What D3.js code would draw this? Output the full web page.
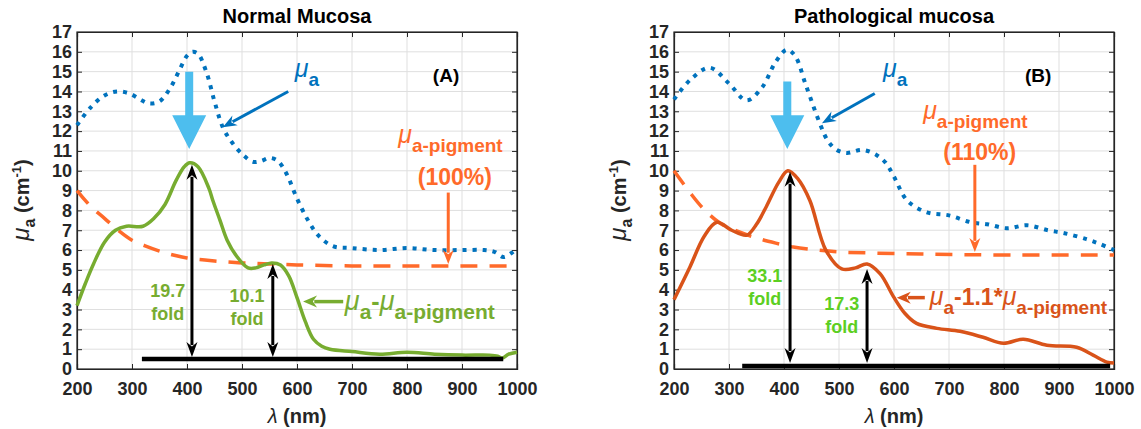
<!DOCTYPE html>
<html>
<head>
<meta charset="utf-8">
<style>
body { margin: 0; background: #fff; }
text { font-family: "Liberation Sans", Arial, sans-serif; font-weight: bold; }
.tick text { fill: #262626; font-size: 18px; font-family: "Liberation Sans", Arial, sans-serif; font-weight: bold; }
</style>
<script src="https://cdn.jsdelivr.net/npm/d3@7"></script>
</head>
<body>
<svg width="1141" height="429"></svg>
<script>

// ---- data ----
var xTicks = [200, 300, 400, 500, 600, 700, 800, 900, 1000];
var yTicks = d3.range(0, 18);

// panel A, normal mucosa
var wlMuaA = [200,225,250,273,295,315,330,350,370,385,400,410,420,435,450,465,480,500,520,535,550,565,580,600,620,640,665,700,750,800,850,900,940,960,975,990,1000];
var muaA   = [12.3,13.2,13.8,14.0,13.9,13.6,13.4,13.5,14.2,15.0,15.8,16.0,15.9,15.0,13.5,12.2,11.5,10.85,10.45,10.5,10.65,10.5,9.9,8.6,7.5,6.7,6.2,6.1,6.0,6.1,6.0,6.0,6.0,5.9,5.65,5.85,6.1];
var wlDiffA = [200,215,230,250,270,290,320,340,360,380,395,405,420,440,447,460,473,490,511,525,540,554,570,585,600,615,630,645,660,700,750,800,850,900,950,965,973,985,1000];
var diffA   = [3.2,4.3,5.3,6.4,7.0,7.2,7.2,7.6,8.3,9.5,10.2,10.4,10.2,9.1,8.5,7.5,6.5,5.7,5.1,5.1,5.25,5.35,5.25,4.7,3.6,2.4,1.5,1.15,1.0,0.88,0.75,0.85,0.75,0.7,0.7,0.65,0.55,0.75,0.85];
var wlPigA = [200,225,250,275,300,325,350,375,400,450,500,550,600,700,800,900,1000];
var pigA   = [9.0,8.2,7.6,7.0,6.5,6.2,5.95,5.75,5.6,5.45,5.35,5.3,5.25,5.2,5.2,5.2,5.2];

// panel B, pathological mucosa
var wlMuaB = [200,230,265,300,332,360,385,405,420,440,465,480,496,514,543,568,585,600,624,660,700,740,770,805,842,880,910,950,975,1000];
var muaB   = [13.6,14.6,15.2,14.4,13.55,14.2,15.5,16.1,15.8,14.3,12.4,11.5,11.05,10.9,11.05,10.8,10.4,9.7,8.5,7.9,7.75,7.4,7.3,7.1,7.25,7.0,6.85,6.55,6.3,6.0];
var wlDiffB = [200,229,255,278,305,332,350,368,390,407,425,447,476,505,530,551,575,599,620,641,678,720,762,799,835,878,932,962,987,1000];
var diffB   = [3.5,5.15,6.7,7.4,7.0,6.75,7.3,8.2,9.4,10.0,9.6,8.5,6.0,5.05,5.1,5.3,4.8,3.65,2.8,2.3,2.05,1.9,1.6,1.3,1.5,1.2,1.1,0.7,0.35,0.3];
var wlPigB = [200,229,253,284,320,351,385,417,460,502,562,650,800,1000];
var pigB   = [10.0,8.9,8.1,7.35,6.9,6.6,6.35,6.15,6.0,5.9,5.85,5.8,5.75,5.75];

// fold arrows: [wavelength, top, bottom]
var foldsA = [[409, 10.3, 0.6], [556, 5.3, 0.6]];
var foldsB = [[411, 9.95, 0.3], [551, 5.05, 0.3]];
// fold labels: [text, wavelength, baseline of number, baseline of "fold"]
var foldTextA = [["19.7", 365, 3.63, 2.47], ["10.1", 509, 3.38, 2.22]];
var foldTextB = [["33.1", 365, 4.4, 3.24], ["17.3", 505, 2.98, 1.82]];

var blue = "#0072bd", lightBlue = "#4dbeee", green = "#77ac30",
    pigOrange = "#ff6a2a", red = "#d95319", foldGreenB = "#5ccf22", axisCol = "#262626";

var svg = d3.select("svg");

var panels = [
  { x0: 77, title: "Normal Mucosa", tag: "(A)", wlMua: wlMuaA, mua: muaA, wlDiff: wlDiffA, diff: diffA,
    wlPig: wlPigA, pig: pigA, diffCol: green, folds: foldsA, foldText: foldTextA, foldCol: green,
    base: [318, 975, 0.5], pct: "(100%)" },
  { x0: 674, title: "Pathological mucosa", tag: "(B)", wlMua: wlMuaB, mua: muaB, wlDiff: wlDiffB, diff: diffB,
    wlPig: wlPigB, pig: pigB, diffCol: red, folds: foldsB, foldText: foldTextB, foldCol: foldGreenB,
    base: [324, 993, 0.15], pct: "(110%)" }
];

function arrow(g, x1, y1, x2, y2, col, w, hl, hw, both) {
  var dx = x2 - x1, dy = y2 - y1, L = Math.sqrt(dx*dx + dy*dy), ux = dx / L, uy = dy / L;
  var sx = both ? x1 + ux*hl*0.8 : x1, sy = both ? y1 + uy*hl*0.8 : y1;
  g.append("line").attr("x1", sx).attr("y1", sy).attr("x2", x2 - ux*hl*0.8).attr("y2", y2 - uy*hl*0.8)
    .attr("stroke", col).attr("stroke-width", w);
  function head(px, py, vx, vy) {
    var bx = px - vx*hl, by = py - vy*hl;
    g.append("path").attr("fill", col)
      .attr("d", "M" + px + "," + py + "L" + (bx - vy*hw/2) + "," + (by + vx*hw/2) +
                 "L" + (px - vx*hl*0.7) + "," + (py - vy*hl*0.7) +
                 "L" + (bx + vy*hw/2) + "," + (by - vx*hw/2) + "Z");
  }
  head(x2, y2, ux, uy);
  if (both) head(x1, y1, -ux, -uy);
}

function label(g, x, y, parts, col, size, anchor) {
  var t = g.append("text").attr("x", x).attr("y", y).attr("fill", col)
    .attr("text-anchor", anchor || "start");
  var level = 0;
  parts.forEach(function(p) {
    var s = t.append("tspan").text(p[0]);
    var want = p[1] === "sub" ? 9 : 0;
    if (want !== level) { s.attr("dy", want - level); level = want; }
    if (p[1] === "mu") s.style("font-style", "italic").style("font-weight", "normal").attr("font-size", size + 6);
    else if (p[1] === "sub") s.attr("font-size", size);
    else s.attr("font-size", size + 4);
  });
  return t;
}

panels.forEach(function(P, pi) {
  var x = d3.scaleLinear().domain([200, 1000]).range([P.x0, P.x0 + 440]);
  var y = d3.scaleLinear().domain([0, 17]).range([369, 32]);
  var g = svg.append("g");

  // grid
  g.append("g").selectAll("line").data(xTicks.slice(1, -1)).enter().append("line")
    .attr("x1", d => x(d)).attr("x2", d => x(d)).attr("y1", 32).attr("y2", 369)
    .attr("stroke", "#dfdfdf").attr("stroke-width", 1);
  g.append("g").selectAll("line").data(yTicks.slice(1, -1)).enter().append("line")
    .attr("y1", d => y(d)).attr("y2", d => y(d)).attr("x1", x(200)).attr("x2", x(1000))
    .attr("stroke", "#dfdfdf").attr("stroke-width", 1);

  // axes
  var ax = g.append("g").attr("transform", "translate(0,369)")
    .call(d3.axisBottom(x).tickValues(xTicks).tickSize(-5).tickPadding(10).tickFormat(d3.format("d")));
  var ay = g.append("g").attr("transform", "translate(" + x(200) + ",0)")
    .call(d3.axisLeft(y).tickValues(yTicks).tickSize(-5).tickPadding(5));
  g.append("g").attr("transform", "translate(0,32)")
    .call(d3.axisTop(x).tickValues(xTicks).tickSize(-5).tickFormat(""));
  g.append("g").attr("transform", "translate(" + x(1000) + ",0)")
    .call(d3.axisRight(y).tickValues(yTicks).tickSize(-5).tickFormat(""));
  g.selectAll(".domain").attr("stroke", axisCol).attr("stroke-width", 1.2);
  g.selectAll(".tick line").attr("stroke", axisCol);
  ax.selectAll("text").attr("dy", "0.9em");
  g.append("rect").attr("x", x(200)).attr("y", 32).attr("width", 440).attr("height", 337)
    .attr("fill", "none").attr("stroke", axisCol).attr("stroke-width", 1.2);

  // title and axis labels
  g.append("text").attr("x", x(600)).attr("y", 23).attr("text-anchor", "middle")
    .attr("font-size", 20).attr("fill", "#000").text(P.title);
  var xl = g.append("text").attr("x", x(600)).attr("y", 423).attr("text-anchor", "middle")
    .attr("font-size", 20).attr("fill", axisCol);
  xl.append("tspan").text("λ").style("font-weight", "normal").style("font-style", "italic");
  xl.append("tspan").text(" (nm)");
  var yl = g.append("text").attr("transform", "translate(" + (P.x0 - 48) + ",200) rotate(-90)")
    .attr("text-anchor", "middle").attr("font-size", 20).attr("fill", axisCol);
  yl.append("tspan").text("μ").style("font-style", "italic").style("font-weight", "normal").attr("font-size", 24);
  yl.append("tspan").text("a").attr("dy", 6).attr("font-size", 16);
  yl.append("tspan").text(" (cm").attr("dy", -6);
  yl.append("tspan").text("-1").attr("dy", -8).attr("font-size", 13);
  yl.append("tspan").text(")").attr("dy", 8);

  var mk = d3.line().x(d => x(d[0])).y(d => y(d[1])).curve(d3.curveCatmullRom.alpha(0.5));

  // series
  g.append("path").datum(d3.zip(P.wlPig, P.pig)).attr("d", mk).attr("fill", "none")
    .attr("stroke", pigOrange).attr("stroke-width", 3.5).attr("stroke-dasharray", "17,12");
  g.append("path").datum(d3.zip(P.wlMua, P.mua)).attr("d", mk).attr("fill", "none")
    .attr("stroke", blue).attr("stroke-width", 4).attr("stroke-dasharray", "4,6");
  g.append("path").datum(d3.zip(P.wlDiff, P.diff)).attr("d", mk).attr("fill", "none")
    .attr("stroke", P.diffCol).attr("stroke-width", 3.5);

  // baseline and fold arrows
  g.append("line").attr("x1", x(P.base[0])).attr("x2", x(P.base[1]))
    .attr("y1", y(P.base[2])).attr("y2", y(P.base[2])).attr("stroke", "#000").attr("stroke-width", 4.5);
  P.folds.forEach(function(f) {
    arrow(g, x(f[0]), y(f[2]), x(f[0]), y(f[1]), "#000", 3, 15, 11, true);
  });
  P.foldText.forEach(function(f) {
    g.append("text").attr("x", x(f[1])).attr("y", y(f[2])).attr("text-anchor", "middle")
      .attr("font-size", 18).attr("fill", P.foldCol).text(f[0]);
    g.append("text").attr("x", x(f[1])).attr("y", y(f[3])).attr("text-anchor", "middle")
      .attr("font-size", 18).attr("fill", P.foldCol).text("fold");
  });

  // big light blue arrow
  var cx = x(pi === 0 ? 404 : 406), yTop = y(15.0), yHead = y(12.8), yTip = y(11.1);
  if (pi === 1) yTop = y(14.5);
  g.append("path").attr("fill", lightBlue)
    .attr("d", "M" + (cx-4) + "," + yTop + "H" + (cx+4) + "V" + yHead + "H" + (cx+17) +
               "L" + cx + "," + yTip + "L" + (cx-17) + "," + yHead + "H" + (cx-4) + "Z");

  // mu_a arrow and label
  if (pi === 0) arrow(g, x(584), y(14.0), x(465), y(12.2), blue, 3, 14, 11);
  else arrow(g, x(565), y(13.9), x(469), y(12.4), blue, 3, 14, 11);
  label(g, x(pi === 0 ? 596 : 580), y(14.73), [["μ", "mu"], ["a", "sub"]], blue, 19);

  // panel tag
  g.append("text").attr("x", x(pi === 0 ? 871 : 862)).attr("y", 82).attr("text-anchor", "middle")
    .attr("font-size", 19).attr("fill", "#000").text(P.tag);

  // pigment label and arrow
  if (pi === 0) {
    label(g, x(784), 143, [["μ", "mu"], ["a-pigment", "sub"]], pigOrange, 19);
    g.append("text").attr("x", x(887)).attr("y", 185).attr("text-anchor", "middle")
      .attr("font-size", 23).attr("fill", pigOrange).text(P.pct);
    arrow(g, x(875), y(8.9), x(875), y(5.3), pigOrange, 3, 14, 11);
    arrow(g, x(684), y(3.4), x(611), y(3.4), green, 3.5, 14, 12);
    label(g, x(687), y(2.98), [["μ", "mu"], ["a", "sub"], ["-", "n"], ["μ", "mu"], ["a-pigment", "sub"]], green, 21);
  } else {
    label(g, x(653), 119, [["μ", "mu"], ["a-pigment", "sub"]], pigOrange, 19);
    g.append("text").attr("x", x(756)).attr("y", 160).attr("text-anchor", "middle")
      .attr("font-size", 23).attr("fill", pigOrange).text(P.pct);
    arrow(g, x(747), y(10.3), x(747), y(5.9), pigOrange, 3, 14, 11);
    arrow(g, x(656), y(3.6), x(605), y(3.6), red, 3.5, 14, 12);
    label(g, x(665), y(3.23), [["μ", "mu"], ["a", "sub"], ["-1.1*", "n"], ["μ", "mu"], ["a-pigment", "sub"]], red, 19);
  }
});

</script>
</body>
</html>
